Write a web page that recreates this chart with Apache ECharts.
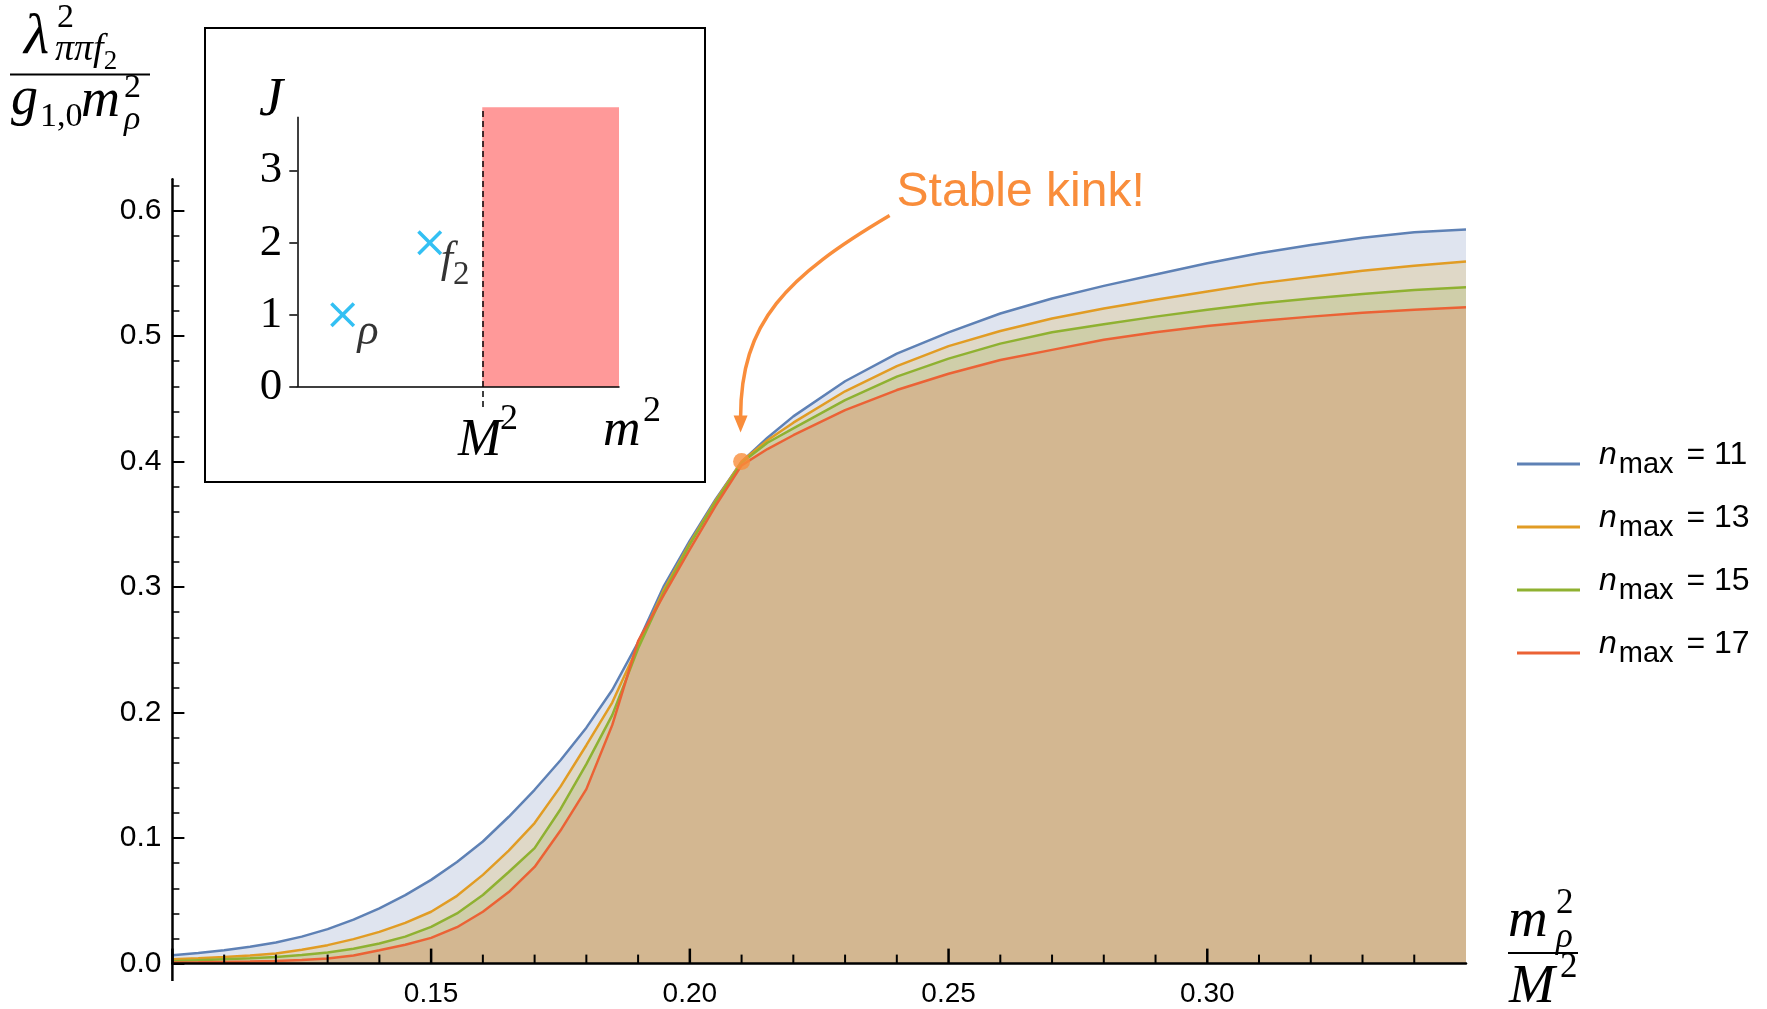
<!DOCTYPE html>
<html>
<head>
<meta charset="utf-8">
<script src="https://cdn.jsdelivr.net/npm/echarts@6/dist/echarts.min.js"></script>
<style>
  html, body { margin: 0; padding: 0; background: #fff; }
  #chart { width: 1767px; height: 1009px; }
</style>
</head>
<body>
<div id="chart"></div>
<script>
// x = m_rho^2 / M^2
const xs = [0.10, 0.105, 0.11, 0.115, 0.12, 0.125, 0.13, 0.135, 0.14, 0.145, 0.15, 0.155, 0.16, 0.165, 0.17, 0.175,
  0.18, 0.185, 0.19, 0.195, 0.20, 0.205, 0.21, 0.215, 0.22, 0.23, 0.24, 0.25, 0.26, 0.27, 0.28, 0.29, 0.30, 0.31,
  0.32, 0.33, 0.34, 0.35];
// upper bound on lambda^2 / (g m^2) for each n_max
const bound11 = [0.0067, 0.0085, 0.0107, 0.0135, 0.0168, 0.0215, 0.0275, 0.035, 0.044, 0.0545, 0.0667, 0.081, 0.0973,
  0.117, 0.1385, 0.162, 0.188, 0.218, 0.256, 0.301, 0.337, 0.370, 0.400, 0.419, 0.436, 0.464, 0.486, 0.503, 0.518,
  0.530, 0.540, 0.549, 0.558, 0.566, 0.5726, 0.5784, 0.5827, 0.585];
const bound13 = [0.0035, 0.0043, 0.0053, 0.0065, 0.008, 0.011, 0.0147, 0.0195, 0.0253, 0.0325, 0.0413, 0.054, 0.0707,
  0.090, 0.112, 0.141, 0.174, 0.208, 0.253, 0.298, 0.335, 0.369, 0.400, 0.417, 0.431, 0.456, 0.476, 0.492, 0.504,
  0.514, 0.522, 0.529, 0.5355, 0.542, 0.547, 0.552, 0.556, 0.5595];
const bound15 = [0.0019, 0.0027, 0.0035, 0.0043, 0.0053, 0.0068, 0.0088, 0.0118, 0.016, 0.0215, 0.0293, 0.040, 0.0547,
  0.073, 0.092, 0.123, 0.159, 0.198, 0.251, 0.296, 0.334, 0.368, 0.399, 0.415, 0.4265, 0.449, 0.4677, 0.482, 0.494,
  0.503, 0.5095, 0.5155, 0.521, 0.526, 0.530, 0.5335, 0.5367, 0.539];
const bound17 = [0.0008, 0.001, 0.0013, 0.0016, 0.002, 0.0028, 0.004, 0.0065, 0.0107, 0.015, 0.0205, 0.029, 0.0413,
  0.057, 0.077, 0.106, 0.139, 0.19, 0.257, 0.294, 0.330, 0.365, 0.397, 0.410, 0.421, 0.441, 0.457, 0.470, 0.481,
  0.489, 0.497, 0.503, 0.508, 0.512, 0.5155, 0.5185, 0.521, 0.523];
const nMax = [11, 13, 15, 17];
const bounds = [bound11, bound13, bound15, bound17];
const lineColors = ["#5e81b5", "#e19c24", "#8fb131", "#eb6235"];
const fillColors = ["#dfe4ef", "#dfd8c7", "#cfcea9", "#d3b791"];

// axis ticks
const yMajor = [0, 0.1, 0.2, 0.3, 0.4, 0.5, 0.6];
const yMinor = Array.from({ length: 32 }, (_, i) => +(i * 0.02).toFixed(2));
const xMajor = [0.1, 0.15, 0.2, 0.25, 0.3];
const xMinor = Array.from({ length: 25 }, (_, i) => +(0.1 + i * 0.01).toFixed(2));

// the kink
const kink = [0.21, 0.40];

// inset: spectrum sketch (m^2, J)
const insetNames = ["ρ", "f₂"];
const insetM2 = [0.63, 1.84];
const insetJ = [1, 2];
const gapM2 = 2.57;   // continuum starts at M^2
const insetMax = 4.47;
const jTicks = [0, 1, 2, 3];

const SANS = "Liberation Sans";
const SERIF = "Liberation Serif";
const orange = "#f98d3b";

const chart = echarts.init(document.getElementById("chart"));

const series = [];
// filled regions first
bounds.forEach((b, i) => {
  series.push({
    type: "line",
    xAxisIndex: 0,
    yAxisIndex: 0,
    data: xs.map((x, k) => [x, b[k]]),
    showSymbol: false,
    silent: true,
    lineStyle: { width: 0 },
    areaStyle: { color: fillColors[i], opacity: 1 },
    z: 1,
  });
});
// boundary lines on top
bounds.forEach((b, i) => {
  series.push({
    name: "nmax" + nMax[i],
    type: "line",
    xAxisIndex: 0,
    yAxisIndex: 0,
    data: xs.map((x, k) => [x, b[k]]),
    showSymbol: false,
    color: lineColors[i],
    lineStyle: { width: 2.5, color: lineColors[i] },
    z: 3,
  });
});
// kink marker
series.push({
  type: "scatter",
  xAxisIndex: 0,
  yAxisIndex: 0,
  data: [kink],
  symbolSize: 17,
  itemStyle: { color: orange },
  z: 10,
});
// inset
series.push({
  type: "scatter",
  xAxisIndex: 1,
  yAxisIndex: 2,
  data: insetM2.map((m, i) => [m, insetJ[i], insetNames[i]]),
  symbol: "path://M0,1 L1,0 L5,4 L9,0 L10,1 L6,5 L10,9 L9,10 L5,6 L1,10 L0,9 L4,5 Z",
  symbolSize: 25,
  itemStyle: { color: "#00b0f0" },
  label: {
    show: true,
    position: [38, 40],
    align: "center",
    verticalAlign: "middle",
    formatter: (p) => (p.data[2] === "ρ" ? "{i|ρ}" : "{i|f}{s|2}"),
    rich: {
      i: { fontFamily: SERIF, fontStyle: "italic", fontSize: 44, color: "#000", verticalAlign: "bottom", lineHeight: 44, padding: [0, 0, 10, 0] },
      s: { fontFamily: SERIF, fontSize: 33, color: "#000", verticalAlign: "bottom", lineHeight: 33 },
    },
  },
  markArea: {
    silent: true,
    itemStyle: { color: "#ff9999", opacity: 1 },
    data: [[{ coord: [gapM2, 0] }, { coord: [insetMax, 3.88] }]],
  },
  markLine: {
    silent: true,
    symbol: "none",
    label: { show: false },
    data: [
      { xAxis: gapM2, lineStyle: { type: [6, 4], color: "#000", width: 1.5 } },
      [{ coord: [0, 0], lineStyle: { type: "solid", color: "#000", width: 1.5 } }, { coord: [0, 3.75] }],
    ],
  },
  z: 4,
});

const tickAxis = (values, len, width) => ({
  show: true,
  inside: true,
  length: len,
  customValues: values,
  lineStyle: { color: "#000", width: width },
});

const option = {
  backgroundColor: "#fff",
  animation: false,
  grid: [
    { left: 172.4, right: 301, top: 179.2, bottom: 45.4 },
    { left: 297.3, top: 107.3, width: 321.7, height: 299.6 },
  ],
  xAxis: [
    {
      gridIndex: 0,
      type: "value",
      position: "bottom",
      min: 0.1,
      max: 0.35,
      z: 5,
      axisLine: { show: true, onZero: false, lineStyle: { color: "#000", width: 2.5 } },
      axisTick: { show: false },
      axisLabel: {
        customValues: [0.15, 0.2, 0.25, 0.3],
        formatter: (v) => v.toFixed(2),
        fontFamily: SANS,
        fontSize: 28,
        color: "#000",
        margin: 17,
      },
      splitLine: { show: false },
    },
    {
      gridIndex: 1,
      type: "value",
      min: 0,
      max: insetMax,
      axisLine: { show: true, onZero: true, lineStyle: { color: "#000", width: 1.5 } },
      axisTick: { show: false },
      axisLabel: { show: false },
      splitLine: { show: false },
      z: 5,
    },
  ],
  yAxis: [
    {
      gridIndex: 0,
      type: "value",
      position: "left",
      min: 0,
      max: 0.625,
      z: 5,
      axisLine: { show: true, onZero: false, lineStyle: { color: "#000", width: 2.5 } },
      axisTick: tickAxis(yMinor, 7, 1.5),
      axisLabel: {
        customValues: yMajor,
        formatter: (v) => v.toFixed(1),
        fontFamily: SANS,
        fontSize: 30,
        color: "#000",
        margin: 11,
      },
      splitLine: { show: false },
    },
    {
      gridIndex: 0,
      type: "value",
      position: "left",
      min: 0,
      max: 0.625,
      z: 6,
      axisLine: { show: false, onZero: false },
      axisTick: tickAxis(yMajor, 12, 2),
      axisLabel: { show: false },
      splitLine: { show: false },
    },
    {
      gridIndex: 1,
      type: "value",
      position: "left",
      min: -0.28,
      max: 3.88,
      axisLine: { show: false },
      axisTick: { show: true, length: 8, customValues: jTicks, lineStyle: { color: "#000", width: 1.5 } },
      axisLabel: { customValues: jTicks, fontFamily: SERIF, fontSize: 45, color: "#000", margin: 15 },
      splitLine: { show: false },
    },
  ],
  legend: {
    orient: "vertical",
    left: 1512,
    top: 434,
    icon: "rect",
    itemWidth: 63,
    itemHeight: 3,
    itemGap: 23,
    selectedMode: false,
    data: nMax.map((n) => "nmax" + n),
    formatter: (name) => "{n|n}{s|max}{e| = " + name.slice(4) + "}",
    textStyle: {
      rich: {
        n: { fontFamily: SANS, fontStyle: "italic", fontSize: 32, color: "#000", lineHeight: 30, verticalAlign: "bottom", padding: [0, 0, 8, 14] },
        s: { fontFamily: SANS, fontSize: 29, color: "#000", lineHeight: 30, verticalAlign: "bottom", padding: [0, 0, 0, 2] },
        e: { fontFamily: SANS, fontSize: 32, color: "#000", lineHeight: 30, verticalAlign: "bottom", padding: [0, 0, 8, 4] },
      },
    },
  },
  series: series,
};

chart.setOption(option);

// annotations placed relative to the kink
const kp = chart.convertToPixel({ xAxisIndex: 0, yAxisIndex: 0 }, kink);
const tx = (text, x, y, size, opts) => ({
  type: "text",
  x: x,
  y: y,
  silent: true,
  z: 50,
  style: Object.assign(
    { text: text, fontFamily: SERIF, fontSize: size, fill: "#000", align: "left", verticalAlign: "middle" },
    opts || {}
  ),
});
const it = { fontStyle: "italic" };

// x-axis ticks, positioned through the x scale, on their own layer above the filled area
const xTickMarks = xMinor.map((v) => {
  const p = chart.convertToPixel({ xAxisIndex: 0, yAxisIndex: 0 }, [v, 0]);
  const major = xMajor.includes(v);
  return {
    type: "rect",
    silent: true,
    zlevel: 1,
    z: 100,
    shape: { x: p[0] - (major ? 1.25 : 1), y: p[1] - (major ? 15 : 9), width: major ? 2.5 : 2, height: major ? 15 : 9 },
    style: { fill: "#000" },
  };
});

const graphic = [
  // inset frame
  { type: "rect", silent: true, shape: { x: 205, y: 28, width: 500, height: 454 }, style: { fill: "none", stroke: "#000", lineWidth: 2 } },
  tx("J", 259, 101, 54, it),
  tx("M", 458, 441, 52, it),
  tx("2", 500, 420, 36),
  tx("m", 603, 431, 52, it),
  tx("2", 643, 412, 36),
  // y-axis title: lambda^2_{pi pi f2} / (g_{1,0} m_rho^2)
  tx("λ", 24, 38, 58, it),
  tx("2", 57, 18, 34),
  tx("{a|ππf}{b|2}", 55, 56, 38, {
    rich: {
      a: { fontFamily: SERIF, fontStyle: "italic", fontSize: 38, fill: "#000", verticalAlign: "bottom", lineHeight: 38, padding: [0, 0, 6, 0] },
      b: { fontFamily: SERIF, fontSize: 27, fill: "#000", verticalAlign: "bottom", lineHeight: 27 },
    },
  }),
  { type: "line", silent: true, shape: { x1: 10, y1: 74.5, x2: 150, y2: 74.5 }, style: { stroke: "#000", lineWidth: 2 } },
  tx("g", 11, 100, 54, it),
  tx("1,0", 40, 117, 34),
  tx("m", 81, 102, 54, it),
  tx("2", 124, 88, 34),
  tx("ρ", 124, 120, 34, it),
  // x-axis title: m_rho^2 / M^2
  tx("m", 1508, 922, 55, it),
  tx("2", 1556, 904, 35),
  tx("ρ", 1556, 938, 35, it),
  { type: "line", silent: true, shape: { x1: 1508, y1: 953, x2: 1578, y2: 953 }, style: { stroke: "#000", lineWidth: 2 } },
  tx("M", 1509, 988, 55, it),
  tx("2", 1560, 968, 35),
  // y axis runs a little below zero
  { type: "line", silent: true, shape: { x1: 172.4, y1: 963, x2: 172.4, y2: 981 }, style: { stroke: "#000", lineWidth: 2.5 } },
  // Stable kink!
  tx("Stable kink!", kp[0] + 155, kp[1] - 269, 48, { fontFamily: SANS, fill: orange }),
  {
    type: "bezierCurve",
    silent: true,
    shape: {
      x1: kp[0] + 148, y1: kp[1] - 246,
      cpx1: kp[0] + 45, cpy1: kp[1] - 185,
      cpx2: kp[0] - 1, cpy2: kp[1] - 140,
      x2: kp[0] - 1, y2: kp[1] - 44,
    },
    style: { stroke: orange, lineWidth: 3.5, fill: "none" },
  },
  {
    type: "polygon",
    silent: true,
    shape: { points: [[kp[0] - 8, kp[1] - 46], [kp[0] + 6, kp[1] - 46], [kp[0] - 1, kp[1] - 29]] },
    style: { fill: orange },
  },
].concat(xTickMarks);

chart.setOption({ graphic: graphic });
</script>
</body>
</html>
